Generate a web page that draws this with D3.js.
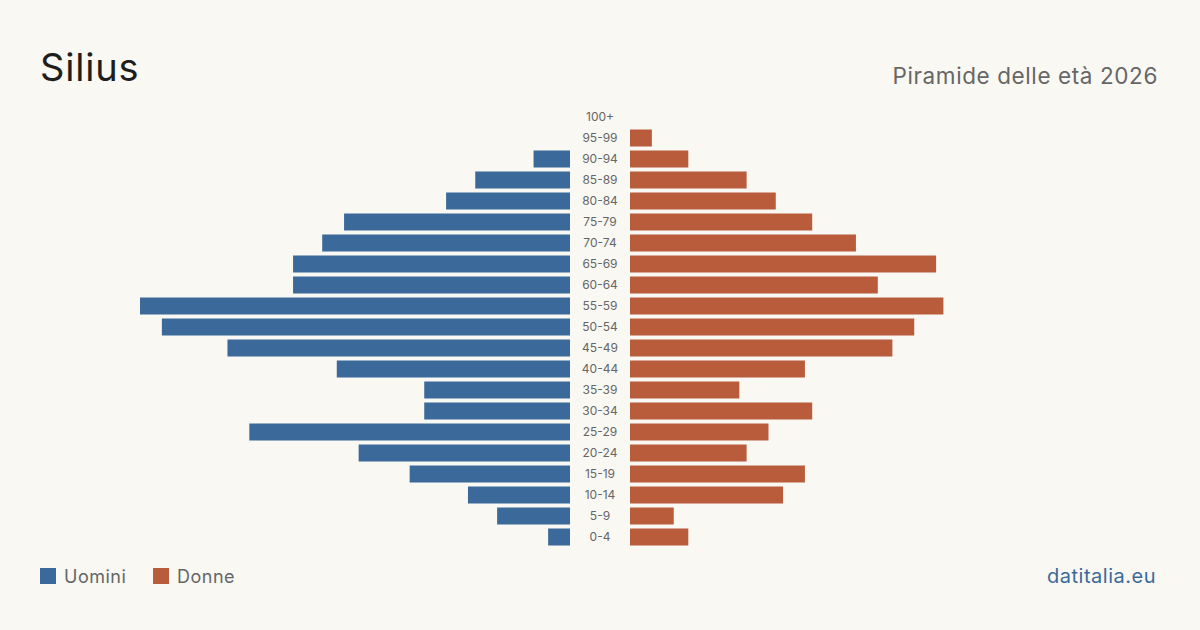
<!DOCTYPE html>
<html>
<head>
<meta charset="utf-8">
<script src="https://cdn.jsdelivr.net/npm/d3@7"></script>
<style>
  body { margin: 0; background: #f9f8f3; }
  svg { display: block; font-family: Inter, "Noto Sans", sans-serif; }
</style>
</head>
<body>
<div id="viz"></div>
<script>
// age classes, top to bottom
let ages = ["100+", "95-99", "90-94", "85-89", "80-84", "75-79", "70-74", "65-69", "60-64", "55-59",
  "50-54", "45-49", "40-44", "35-39", "30-34", "25-29", "20-24", "15-19", "10-14", "5-9", "0-4"];
let men = [0, 0, 5, 13, 17, 31, 34, 38, 38, 59, 56, 47, 32, 20, 20, 44, 29, 22, 14, 10, 3];
let women = [0, 3, 8, 16, 20, 25, 31, 42, 34, 43, 39, 36, 24, 15, 25, 19, 16, 24, 21, 6, 8];

let w = 1200;
let h = 630;
let blue = "#3b6a9a";
let red = "#b95c3c";

let viz = d3.select("#viz")
  .append("svg")
  .attr("width", w)
  .attr("height", h)
  .style("background-color", "#f9f8f3");

let y = d3.scaleBand()
  .domain(ages)
  .range([106.5, 547.5])
  .paddingInner(4 / 21)
  .paddingOuter(2 / 21);

let maxVal = d3.max(men.concat(women));
let xMen = d3.scaleLinear().domain([0, maxVal]).range([570, 140]);
let xWomen = d3.scaleLinear().domain([0, maxVal]).range([630, 1060]);

viz.selectAll(".men")
  .data(ages)
  .enter()
  .append("rect")
  .attr("class", "men")
  .attr("x", (d, i) => xMen(men[i]))
  .attr("y", d => y(d))
  .attr("width", (d, i) => xMen(0) - xMen(men[i]))
  .attr("height", y.bandwidth())
  .attr("fill", blue);

viz.selectAll(".women")
  .data(ages)
  .enter()
  .append("rect")
  .attr("class", "women")
  .attr("x", xWomen(0))
  .attr("y", d => y(d))
  .attr("width", (d, i) => xWomen(women[i]) - xWomen(0))
  .attr("height", y.bandwidth())
  .attr("fill", red);

viz.selectAll(".age")
  .data(ages)
  .enter()
  .append("text")
  .attr("class", "age")
  .text(d => d)
  .attr("x", 600)
  .attr("y", d => y(d) + y.bandwidth() / 2)
  .attr("dy", "0.35em")
  .attr("text-anchor", "middle")
  .style("font-size", "12px")
  .style("fill", "#666");

// titles
viz.append("text")
  .text("Silius")
  .attr("x", 40)
  .attr("y", 81)
  .style("font-size", "38px")
  .style("letter-spacing", "0.8px")
  .style("fill", "#1e1e1e");

viz.append("text")
  .text("Piramide delle età 2026")
  .attr("x", 1158)
  .attr("y", 84)
  .attr("text-anchor", "end")
  .style("font-size", "22.5px")
  .style("letter-spacing", "0.6px")
  .style("fill", "#666");

// legend
let legend = [["Uomini", blue, 40], ["Donne", red, 153]];
legend.forEach(l => {
  viz.append("rect")
    .attr("x", l[2])
    .attr("y", 568)
    .attr("width", 16)
    .attr("height", 16)
    .attr("fill", l[1]);
  viz.append("text")
    .text(l[0])
    .attr("x", l[2] + 24)
    .attr("y", 583)
    .style("font-size", "18px")
    .style("letter-spacing", "0.5px")
    .style("fill", "#666");
});

viz.append("text")
  .text("datitalia.eu")
  .attr("x", 1156)
  .attr("y", 583)
  .attr("text-anchor", "end")
  .style("font-size", "20px")
  .style("letter-spacing", "0.5px")
  .style("fill", blue);
</script>
</body>
</html>
